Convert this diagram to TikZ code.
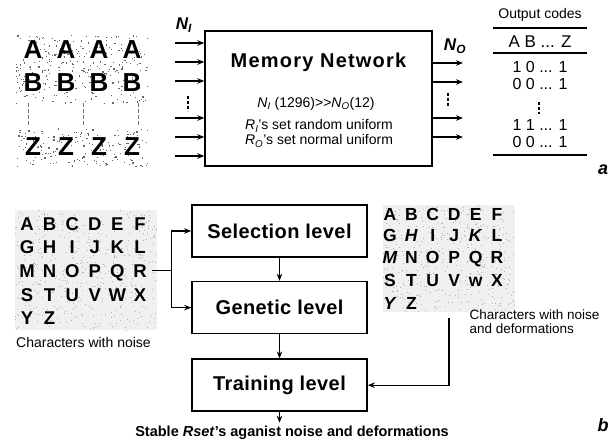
\documentclass[tikz,border=0pt]{standalone}
\usepackage{fontspec}
\setmainfont{Liberation Sans}
\usetikzlibrary{
    positioning,
    arrows.meta,
    matrix,
    calc
}
\tikzset{
    arrow_style/.style={
        -{Stealth[length=7pt,width=5.5pt]}, line width=1.2pt
    },
    link_style/.style={
        line width=1.2pt
    },
    dot_style/.style={
        dash pattern=on 3pt off 2pt, line width=1.3pt
    },
    sep_style/.style={
        dash pattern=on 4pt off 2pt, line width=0.5pt, black!55
    },
    rule_style/.style={
        line width=1.4pt
    },
    noise_dot/.style={
        fill=black!60
    },
    code_row/.style={
        inner sep=0pt, font=\fontsize{16}{16}\selectfont
    },
    level_box/.style={
        rectangle, draw, line width=1.6pt,
        minimum width=175pt, minimum height=52pt,
        font=\bfseries\fontsize{20}{20}\selectfont\addfontfeature{LetterSpace=2}
    }
}

\begin{document}
\begin{tikzpicture}[
    x=1pt, y=-1pt,
    glyph_cell/.style={inner sep=0pt, minimum width=33pt, minimum height=33pt,
                       font=\bfseries\fontsize{26}{26}\selectfont},
    char_cell/.style={inner sep=0pt, minimum width=22.6pt, minimum height=23pt,
                      font=\bfseries\fontsize{18.5}{18.5}\selectfont},
    dchar_cell/.style={inner sep=0pt, minimum width=21.4pt, minimum height=21.5pt,
                       font=\bfseries\fontsize{17.5}{17.5}\selectfont},
    tag_style/.style={font=\bfseries\itshape\fontsize{17}{17}\selectfont},
    panel_style/.style={font=\bfseries\itshape\fontsize{18}{18}\selectfont}
  ]
    \useasboundingbox (0,0) rectangle (616,441);

    % noise behind the character samples
    \pgfmathsetseed{11}
    \foreach \k in {1,...,300}
        \fill[noise_dot] ({15+133*rnd},{35+68*rnd}) rectangle ++(1.2,1.2);
    \foreach \k in {1,...,170}
        \fill[noise_dot] ({15+133*rnd},{128+38*rnd}) rectangle ++(1.2,1.2);
    \fill[gray!12] (15,210) rectangle (157,330);
    \foreach \k in {1,...,450}
        \fill[gray!60] ({15+142*rnd},{210+120*rnd}) rectangle ++(1,1);
    \fill[gray!12] (383,205) rectangle (515,312);
    \foreach \k in {1,...,400}
        \fill[gray!60] ({383+132*rnd},{205+107*rnd}) rectangle ++(1,1);

    % part a
    \matrix (top_map) [matrix of nodes, nodes={glyph_cell},
                       column sep=0pt, row sep=0pt,
                       anchor=center] at (82.5,98.5) {
      A & A & A & A \\
      B & B & B & B \\[31pt]
      Z & Z & Z & Z \\
    };
    \draw[sep_style] (28,103) -- (28,127);
    \draw[sep_style] (83,103) -- (83,127);
    \draw[sep_style] (138,103) -- (138,127);

    \node[draw, line width=1.4pt, minimum width=227pt, minimum height=135pt] (mem) at (318.5,98.5) {};
    \node[font=\bfseries\fontsize{20}{20}\selectfont\addfontfeature{LetterSpace=6}] (mem_title) at (318.5,62) {Memory Network};
    \node[font=\fontsize{14}{14}\selectfont] (mem_ratio) at (316,104) {\textit{N}\textsubscript{\textit{I}} (1296)>{}>\textit{N}\textsubscript{\textit{O}}(12)};
    \node[font=\fontsize{14}{15}\selectfont, align=center] (mem_sets) at (319,133.5) {\textit{R}\textsubscript{\textit{I}}'s set random uniform\\\textit{R}\textsubscript{\textit{O}}'s set normal uniform};

    \node[tag_style] (n_in) at (184,25) {N\textsubscript{I}};
    \node[tag_style] (n_out) at (455,46) {N\textsubscript{O}};

    \foreach \y [count=\i] in {43,62,81,118,137,156} {
        \coordinate (in_\i) at (175,\y);
        \draw[arrow_style] (in_\i) -- (in_\i -| mem.west);
    }
    \foreach \y [count=\i] in {63,82,118,137} {
        \coordinate (out_\i) at (463,\y);
        \draw[arrow_style] (out_\i -| mem.east) -- (out_\i);
    }
    \draw[dot_style] (188,96) -- (188,111);
    \draw[dot_style] (448,93) -- (448,108);

    % output codes
    \node[font=\fontsize{14}{14}\selectfont] (codes_title) at (540,15) {Output codes};
    \draw[rule_style] (493,28) -- (587,28);
    \node[font=\fontsize{17}{17}\selectfont] (codes_head) at (540,42) {A B ... Z};
    \draw[rule_style] (493,53) -- (587,53);
    \node[code_row] (code_1) at (540,67) {1 0 ... 1};
    \node[code_row] (code_2) at (540,84) {0 0 ... 1};
    \draw[dot_style] (539,102) -- (539,114);
    \node[code_row] (code_3) at (540,125) {1 1 ... 1};
    \node[code_row] (code_4) at (540,142) {0 0 ... 1};
    \draw[rule_style] (493,155) -- (587,155);

    \node[panel_style] (panel_a) at (603,170) {a};

    % part b
    \matrix (left_map) [matrix of nodes, nodes={char_cell},
                        column sep=0pt, row sep=0pt,
                        anchor=center] at (83.5,271.5) {
      A & B & C & D & E & F \\
      G & H & I & J & K & L \\
      M & N & O & P & Q & R \\
      S & T & U & V & W & X \\
      Y & Z &   &   &   &   \\
    };
    \node[below=0pt of left_map, font=\fontsize{14}{14}\selectfont] (left_label) {Characters with noise};

    \matrix (right_map) [matrix of nodes, nodes={dchar_cell},
                         column sep=0pt, row sep=0pt,
                         anchor=center] at (443.5,259) {
      A & B & C & D & E & F \\
      G & \textit{H} & I & J & \textit{K} & L \\
      \textit{M} & N & O & P & Q & R \\
      S & T & U & V & w & X \\
      \textit{Y} & Z &   &   &   &   \\
    };
    \node[font=\fontsize{13.5}{14}\selectfont, align=left, anchor=west] (right_label) at (466,321.5) {Characters with noise\\and deformations};

    \node[level_box] (sel) at (279.5,231) {Selection level};
    \node[level_box, below=23pt of sel] (gen) {Genetic level};
    \node[level_box, below=24pt of gen] (train) {Training level};
    \node[font=\bfseries\fontsize{14.5}{14.5}\selectfont] (stable) at (292,433) {Stable \textit{Rset}'s aganist noise and deformations};

    \coordinate (split) at ($(left_map-3-6.east)+(20,0)$);
    \draw[link_style] (left_map-3-6.east) -- (split);
    \draw[arrow_style] (split) |- (sel.west);
    \draw[arrow_style] (split) |- (gen.west);
    \draw[arrow_style] (sel) -- (gen);
    \draw[arrow_style] (gen) -- (train);
    \draw[arrow_style] (train) -- (train.south |- stable.north);

    \coordinate (drop) at (449,318);
    \draw[arrow_style] (drop) |- (train.east);

    \node[panel_style] (panel_b) at (603,425) {b};

\end{tikzpicture}
\end{document}
